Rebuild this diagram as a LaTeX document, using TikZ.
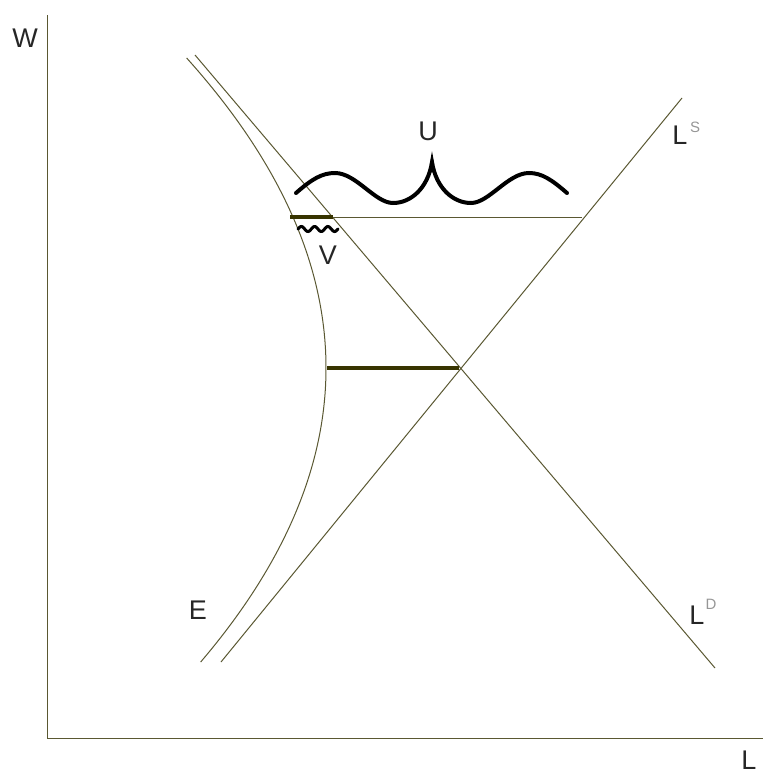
\documentclass[tikz,border=0pt]{standalone}
\usepackage{fontspec}
\setmainfont{Liberation Sans}
\definecolor{olivethin}{RGB}{90,88,50}
\definecolor{olivethick}{RGB}{55,52,0}
\definecolor{supgray}{RGB}{150,150,150}
\tikzset{
  thinline/.style={draw=olivethin, line width=1pt},
  thickseg/.style={draw=olivethick, line width=4pt},
  wave/.style={draw=black, line width=4pt, line cap=round},
  lbl/.style={font=\fontsize{27}{27}\selectfont, inner sep=0pt, text=black!85},
  suplbl/.style={font=\fontsize{15}{15}\selectfont, inner sep=0pt, text=supgray}
}
\begin{document}
\begin{tikzpicture}[x=1pt,y=-1pt]
\useasboundingbox (0,0) rectangle (763,777);
% axes
\coordinate (O) at (47,738);
\coordinate (Wtop) at (47,15);
\coordinate (Lend) at (763,738);
\draw[thinline] (Wtop) -- (O) -- (Lend);
\node[lbl] (W) at (25,38) {W};
\node[lbl] (Lax) at (749,760) {L};
% demand and supply lines
\coordinate (D1) at (195,55);
\coordinate (D2) at (715,668);
\coordinate (S1) at (221,662);
\coordinate (S2) at (682,98);
\draw[thinline] (D1) -- (D2);
\draw[thinline] (S1) -- (S2);
% curve E
\draw[thinline] plot[domain=58:662, samples=80, smooth] ({326-14.5*((\x-368)/100)^2}, \x);
% horizontal lines
\coordinate (A1) at (290,217);
\coordinate (A2) at (333,217);
\coordinate (A3) at (582,217);
\draw[thinline] (A2) -- (A3);
\draw[thickseg] (A1) -- (A2);
\coordinate (B1) at (327,368);
\coordinate (B2) at (459,368);
\draw[thickseg] (B1) -- (B2);
% U wave
\draw[wave] (296,193) .. controls (312,179) and (322,173) .. (335,173)
  .. controls (356,173) and (375,203) .. (393,203)
  .. controls (411,203) and (428,188) .. (432,162)
  .. controls (436,188) and (453,203) .. (471,203)
  .. controls (489,203) and (508,173) .. (529,173)
  .. controls (542,173) and (552,180) .. (567,193);
% V wiggle
\draw[line width=3pt, line cap=round] plot[domain=0:40, samples=60, smooth] ({298+\x}, {229-2.5*sin(\x*360/13.3)});
% labels
\node[lbl] (U) at (428,131) {U};
\node[lbl] (V) at (328,255) {V};
\node[lbl] (E) at (198,610) {E};
\node[lbl] (LS) at (680,135) {L};
\node[suplbl] (LSs) at (695,127) {S};
\node[lbl] (LD) at (697,615) {L};
\node[suplbl] (LDs) at (711,604) {D};
\end{tikzpicture}
\end{document}
